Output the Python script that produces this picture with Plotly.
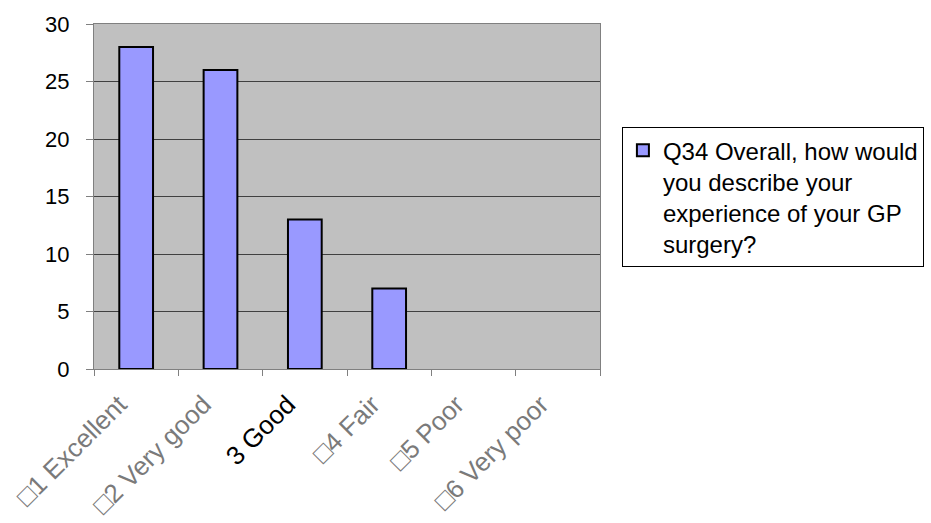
import plotly.graph_objects as go

categories = ["□1 Excellent", "□2 Very good", "3 Good", "□4 Fair", "□5 Poor", "□6 Very poor"]
values = [28, 26, 13, 7, 0, 0]
label_colors = ["#7a7a7a", "#7a7a7a", "#000000", "#7a7a7a", "#7a7a7a", "#7a7a7a"]
series_name = "Q34 Overall, how would<br>you describe your<br>experience of your GP<br>surgery?"
y_ticks = [0, 5, 10, 15, 20, 25, 30]

tick_text = [f"<span style='color:{c}'>{t}</span>" for t, c in zip(categories, label_colors)]
# empty categories get no outline so no flat stroke is drawn at zero
outline_widths = [2 if v > 0 else 0 for v in values]

fig = go.Figure()
fig.add_trace(go.Bar(
    x=categories,
    y=values,
    name=series_name,
    marker=dict(color="#9999FF", line=dict(color="#000000", width=outline_widths)),
    width=0.4,
    showlegend=True,
))

fig.update_layout(
    width=931,
    height=523,
    margin=dict(l=94, r=331, t=24, b=154, autoexpand=False),
    paper_bgcolor="#FFFFFF",
    plot_bgcolor="#C0C0C0",
    font=dict(family="Liberation Sans, Arial, sans-serif", size=20, color="#000000"),
    showlegend=True,
    legend=dict(
        xref="container", yref="container",
        x=0.668, y=0.757, xanchor="left", yanchor="top",
        bgcolor="#FFFFFF", bordercolor="#000000", borderwidth=1,
        font=dict(size=24, color="#000000"),
        valign="top",
        itemwidth=30,
    ),
)

fig.update_xaxes(
    type="category",
    tickmode="array",
    tickvals=categories,
    ticktext=tick_text,
    tickangle=-45,
    ticks="outside",
    tickson="boundaries",
    ticklen=6,
    tickcolor="#808080",
    ticklabelshift=-17,
    ticklabelstandoff=9,
    showline=True,
    linecolor="#808080",
    linewidth=1,
    mirror=True,
    showgrid=False,
    automargin=False,
    tickfont=dict(size=26),
)

fig.update_yaxes(
    range=[0, 30],
    tickmode="array",
    tickvals=y_ticks,
    ticks="outside",
    ticklen=7,
    tickcolor="#808080",
    ticklabelstandoff=12,
    showline=True,
    linecolor="#808080",
    linewidth=1,
    mirror=True,
    showgrid=True,
    gridcolor="#404040",
    gridwidth=1,
    zeroline=False,
    automargin=False,
    tickfont=dict(size=22),
)

fig.write_html("out.html")
